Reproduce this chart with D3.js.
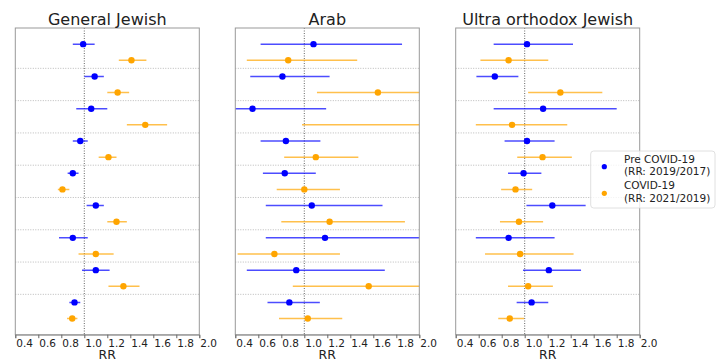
<!DOCTYPE html>
<html><head><meta charset="utf-8">
<script src="https://cdn.jsdelivr.net/npm/d3@7"></script>
<style>body{margin:0;background:#fff}svg{display:block;font-family:"DejaVu Sans",sans-serif}</style>
</head><body><svg id="c" width="723" height="362"></svg>
<script>
const panels = ["General Jewish", "Arab", "Ultra orthodox Jewish"];
const groups = [1,2,3,4,5,6,7,8,9];
const xTicks = [0.4,0.6,0.8,1.0,1.2,1.4,1.6,1.8,2.0];
const seriesNames = ["Pre COVID-19\n(RR: 2019/2017)", "COVID-19\n(RR: 2021/2019)"];
const seriesColors = ["#0000ff", "#ffa500"];

// [rr, lower, upper] per group
const genPre  = [[0.99,0.90,1.09],[1.09,1.00,1.17],[1.06,0.93,1.20],[0.965,0.90,1.03],[0.90,0.855,0.95],[1.10,1.02,1.17],[0.90,0.78,1.03],[1.10,0.98,1.22],[0.915,0.87,0.965]];
const genCov  = [[1.41,1.30,1.54],[1.29,1.20,1.39],[1.53,1.37,1.72],[1.21,1.125,1.28],[0.81,0.77,0.87],[1.28,1.20,1.37],[1.10,0.95,1.255],[1.34,1.21,1.48],[0.895,0.85,0.94]];
const arabPre = [[1.08,0.62,1.85],[0.81,0.53,1.22],[0.55,0.33,1.19],[0.84,0.62,1.14],[0.83,0.64,1.10],[1.065,0.665,1.68],[1.18,0.665,2.10],[0.93,0.50,1.70],[0.87,0.68,1.135]];
const arabCov = [[0.86,0.50,1.46],[1.64,1.11,2.40],[2.25,0.98,3.50],[1.10,0.825,1.47],[1.00,0.76,1.31],[1.22,0.80,1.875],[0.74,0.42,1.31],[1.56,0.90,2.60],[1.03,0.78,1.33]];
const ultraPre = [[1.02,0.73,1.42],[0.74,0.58,0.945],[1.16,0.73,1.80],[1.02,0.825,1.26],[0.99,0.855,1.145],[1.24,1.015,1.53],[0.86,0.575,1.26],[1.21,0.985,1.49],[1.06,0.93,1.205]];
const ultraCov = [[0.86,0.615,1.205],[1.31,1.03,1.675],[0.89,0.575,1.37],[1.155,0.935,1.41],[0.92,0.795,1.065],[0.95,0.785,1.16],[0.96,0.655,1.425],[1.03,0.855,1.245],[0.87,0.77,0.995]];

const panelData = [[genPre, genCov],[arabPre, arabCov],[ultraPre, ultraCov]];

const svg = d3.select("#c");
const plotTop = 28, plotBottom = 334.7, pw = 184;
const lefts = [15.3, 235.3, 455.7];
const y = d3.scaleLinear().domain([0, 19]).range([plotTop, plotBottom]);

panels.forEach((title, pi) => {
  const L = lefts[pi];
  const x = d3.scaleLinear().domain([0.4, 2.0]).range([L, L + pw]);
  const g = svg.append("g");
  const clipId = "clip" + pi;
  svg.append("clipPath").attr("id", clipId).append("rect")
    .attr("x", L).attr("y", plotTop).attr("width", pw).attr("height", plotBottom - plotTop);

  g.selectAll("line.grid").data(groups.slice(0, -1)).join("line")
    .attr("x1", L).attr("x2", L + pw)
    .attr("y1", d => y(2 * d + 0.5)).attr("y2", d => y(2 * d + 0.5))
    .attr("stroke", "#a8a8a8").attr("stroke-width", 0.8).attr("stroke-dasharray", "1,1.5");

  g.append("line").attr("x1", x(1)).attr("x2", x(1)).attr("y1", plotTop).attr("y2", plotBottom)
    .attr("stroke", "#555").attr("stroke-width", 0.9).attr("stroke-dasharray", "1,1.5");

  const marks = g.append("g").attr("clip-path", `url(#${clipId})`);
  panelData[pi].forEach((series, si) => {
    const yPos = i => y(2 * i + 1 + si);
    marks.selectAll(null).data(series).join("line")
      .attr("x1", d => x(d[1])).attr("x2", d => x(d[2]))
      .attr("y1", (d, i) => yPos(i)).attr("y2", (d, i) => yPos(i))
      .attr("stroke", seriesColors[si]).attr("stroke-opacity", 0.7).attr("stroke-width", 1.5);
    marks.selectAll(null).data(series).join("circle")
      .attr("cx", d => x(d[0])).attr("cy", (d, i) => yPos(i)).attr("r", 3.2)
      .attr("fill", seriesColors[si]);
  });

  g.append("rect").attr("x", L).attr("y", plotTop).attr("width", pw).attr("height", plotBottom - plotTop)
    .attr("fill", "none").attr("stroke", "#999").attr("stroke-width", 1);

  const ax = g.append("g").attr("transform", `translate(0,${plotBottom})`)
    .call(d3.axisBottom(x).tickValues(xTicks).tickSize(3.5).tickFormat(d3.format(".1f")));
  ax.select(".domain").attr("stroke", "#999");
  ax.selectAll(".tick line").attr("stroke", "#666");
  ax.selectAll(".tick text").attr("text-anchor", "start").attr("x", 0.5).attr("y", 4.5)
    .attr("font-size", 10.5).attr("fill", "#222").attr("font-family", "DejaVu Sans");

  g.append("text").attr("x", L + pw / 2).attr("y", 359).attr("text-anchor", "middle")
    .attr("font-size", 12.5).attr("fill", "#222").text("RR");
  g.append("text").attr("x", L + pw / 2).attr("y", 24.5).attr("text-anchor", "middle")
    .attr("font-size", 16).attr("fill", "#222").text(title);
});

const lg = svg.append("g");
lg.append("rect").attr("x", 590.7).attr("y", 151).attr("width", 124.3).attr("height", 57).attr("rx", 3)
  .attr("fill", "#fff").attr("fill-opacity", 0.8).attr("stroke", "#d8d8d8").attr("stroke-width", 0.8);
seriesNames.forEach((name, i) => {
  const y0 = 162.7 + i * 26.6;
  lg.append("circle").attr("cx", 604.3).attr("cy", y0 + 4).attr("r", 2.6).attr("fill", seriesColors[i]);
  name.split("\n").forEach((t, j) => {
    lg.append("text").attr("x", 624).attr("y", y0 + j * 12.6).attr("font-size", 10.5)
      .attr("fill", "#222").text(t);
  });
});
</script></body></html>
